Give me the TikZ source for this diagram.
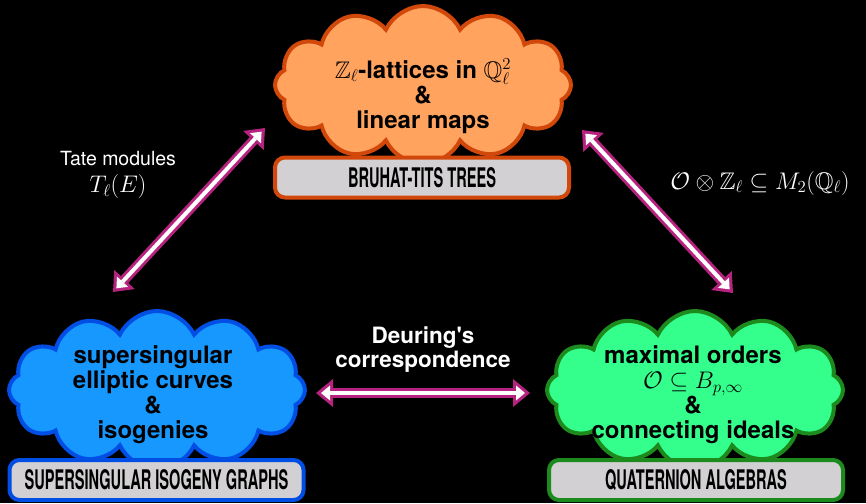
\RequirePackage{fix-cm}
\documentclass[tikz,border=0pt]{standalone}
\usepackage{amsmath}
\usepackage{amssymb}
\usepackage{graphicx}
\usepackage{fontspec}
\setmainfont{TeX Gyre Heros}
\usetikzlibrary{arrows.meta}
\usetikzlibrary{shapes.symbols}
\usetikzlibrary{positioning}
% scalable blackboard bold
\DeclareFontFamily{U}{msb}{}
\DeclareFontShape{U}{msb}{m}{n}{<-6> msbm5 <6-8> msbm7 <8-> msbm10}{}

\definecolor{lattfill}{RGB}{255,163,94}
\definecolor{lattedge}{RGB}{210,72,10}
\definecolor{curvefill}{RGB}{22,152,255}
\definecolor{curveedge}{RGB}{0,78,228}
\definecolor{orderfill}{RGB}{52,255,140}
\definecolor{orderedge}{RGB}{28,138,28}
\definecolor{boxgray}{RGB}{210,208,210}
\definecolor{linkpink}{RGB}{181,35,127}

\tikzset{bubble/.style = {cloud, cloud puffs=12, cloud puff arc=130, aspect=2,
                          line width=4pt, minimum width=296pt, minimum height=158pt},
         bubbletext/.style = {align=center, font=\fontsize{24}{25}\selectfont\bfseries},
         namebox/.style = {rectangle, rounded corners=10pt, line width=4pt, fill=boxgray,
                           minimum width=294pt, minimum height=40pt, inner sep=0pt,
                           font=\fontsize{27}{27}\selectfont\bfseries},
         sidelabel/.style = {text=white, align=center},
         dualarrow/.style = {draw=linkpink, line width=10pt,
                             {Triangle[length=17pt,width=28pt,line width=0pt]}-{Triangle[length=17pt,width=28pt,line width=0pt]},
                             postaction={draw=white, line width=4pt, shorten >=5pt, shorten <=5pt,
                                         {Triangle[length=9pt,width=15pt,line width=0pt]}-{Triangle[length=9pt,width=15pt,line width=0pt]}}}}

\begin{document}
\begin{tikzpicture}[x=1pt, y=-1pt]
    \fill[black] (0,0) rectangle (866,503);
    \useasboundingbox (0,0) rectangle (866,503);

    % lattices on top
    \node[bubble, draw=lattedge, fill=lattfill] (lattcloud) at (423,85) {};
    \node[bubbletext] (latttext) at (423,96) {$\mathbb{Z}_\ell$-lattices in $\mathbb{Q}_\ell^2$\\ \&\\ linear maps};
    \node[namebox, draw=lattedge] (lattbox) at (422,177.5) {\scalebox{0.54}[1]{BRUHAT-TITS TREES}};

    % curves bottom left
    \node[bubble, draw=curveedge, fill=curvefill] (curvecloud) at (157,390) {};
    \node[bubbletext] (curvetext) at (153,395) {supersingular\\ elliptic curves\\ \&\\ isogenies};
    \node[namebox, draw=curveedge] (curvebox) at (156.5,480) {\scalebox{0.54}[1]{SUPERSINGULAR ISOGENY GRAPHS}};

    % orders bottom right
    \node[bubble, draw=orderedge, fill=orderfill] (ordercloud) at (695,390) {};
    \node[bubbletext] (ordertext) at (693,395) {maximal orders\\ $\mathcal{O}\subseteq B_{p,\infty}$\\ \&\\ connecting ideals};
    \node[namebox, draw=orderedge] (orderbox) at (696,480) {\scalebox{0.54}[1]{QUATERNION ALGEBRAS}};

    \coordinate (curvesup) at (113,292);
    \coordinate (treesleft) at (265,128);
    \coordinate (treesright) at (582,130);
    \coordinate (ordersup) at (733,293);
    \coordinate (curvesright) at (316,393);
    \coordinate (ordersleft) at (530,393);

    \draw[dualarrow] (curvesup) -- (treesleft);
    \draw[dualarrow] (treesright) -- (ordersup);
    \draw[dualarrow] (curvesright) -- (ordersleft);

    \node[sidelabel, font=\fontsize{19.5}{27}\selectfont] (tatelabel) at (118,175) {Tate modules\\ {\fontsize{24}{26}\selectfont$T_\ell(E)$}};
    \node[sidelabel, font=\fontsize{24}{26}\selectfont] (tensorlabel) at (760,183) {$\mathcal{O}\otimes\mathbb{Z}_\ell\subseteq M_2(\mathbb{Q}_\ell)$};
    \node[sidelabel, font=\fontsize{22.5}{24}\selectfont\bfseries] (deuringlabel) at (423,350) {Deuring\textquotesingle s\\ correspondence};
  \end{tikzpicture}
\end{document}
